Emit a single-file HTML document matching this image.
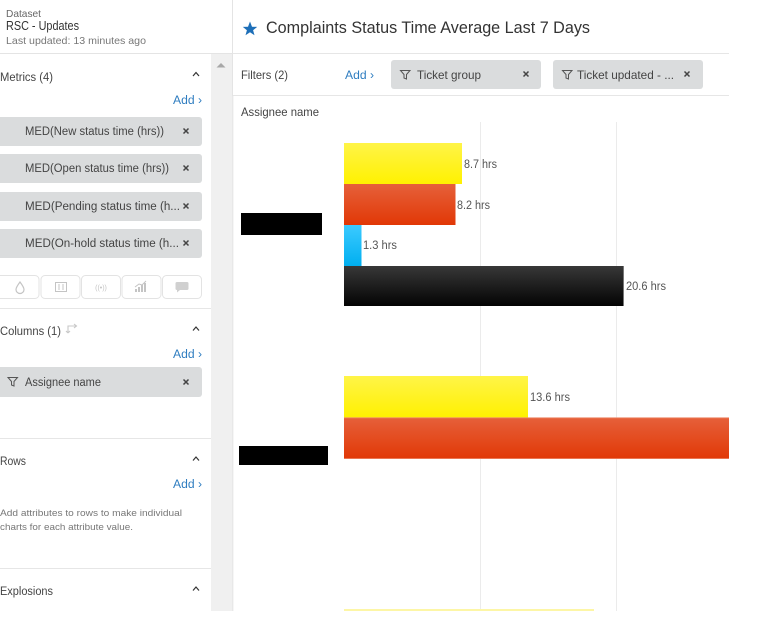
<!DOCTYPE html>
<html>
<head>
<meta charset="utf-8">
<style>
  html,body{margin:0;padding:0;background:#fff;}
  svg{display:block;}
  text{font-family:"Liberation Sans", Arial, sans-serif;}
</style>
</head>
<body>
<svg width="765" height="637" viewBox="0 0 765 637" xmlns="http://www.w3.org/2000/svg">
  <defs>
    <linearGradient id="gY" x1="0" y1="0" x2="0" y2="1">
      <stop offset="0" stop-color="#fff448"/>
      <stop offset="1" stop-color="#fff100"/>
    </linearGradient>
    <linearGradient id="gR" x1="0" y1="0" x2="0" y2="1">
      <stop offset="0" stop-color="#e6603a"/>
      <stop offset="1" stop-color="#e13806"/>
    </linearGradient>
    <linearGradient id="gB" x1="0" y1="0" x2="0" y2="1">
      <stop offset="0" stop-color="#3ccaff"/>
      <stop offset="1" stop-color="#00aff0"/>
    </linearGradient>
    <linearGradient id="gK" x1="0" y1="0" x2="0" y2="1">
      <stop offset="0" stop-color="#383838"/>
      <stop offset="1" stop-color="#030303"/>
    </linearGradient>
    <clipPath id="leftClip"><rect x="0" y="54" width="211" height="557"/></clipPath>
    <clipPath id="chartClip"><rect x="233" y="96" width="496" height="515"/></clipPath>
  </defs>

  <rect width="765" height="637" fill="#fff"/>

  <!-- ===== Left header ===== -->
  <text x="6" y="17" font-size="10.5" fill="#666" textLength="35" lengthAdjust="spacingAndGlyphs">Dataset</text>
  <text x="6" y="30" font-size="12.5" fill="#333" textLength="73" lengthAdjust="spacingAndGlyphs">RSC - Updates</text>
  <text x="6" y="44" font-size="10.5" fill="#777" textLength="140" lengthAdjust="spacingAndGlyphs">Last updated: 13 minutes ago</text>
  <line x1="0" y1="53.5" x2="232" y2="53.5" stroke="#e4e4e4" stroke-width="1"/>

  <!-- scrollbar -->
  <rect x="211" y="54" width="21" height="557" fill="#f0f0f0"/>
  <polygon points="216.5,67.5 225.5,67.5 221,63" fill="#a8a8a8"/>
  <line x1="232.5" y1="0" x2="232.5" y2="611" stroke="#e4e4e4" stroke-width="1"/>

  <!-- ===== Left panel content ===== -->
  <g clip-path="url(#leftClip)">
    <!-- Metrics -->
    <text x="0" y="81" font-size="11.5" fill="#444" textLength="53" lengthAdjust="spacingAndGlyphs">Metrics (4)</text>
    <polyline points="193,76 196,72.5 199,76" fill="none" stroke="#333" stroke-width="1.2"/>
    <text x="173" y="104" font-size="11.5" fill="#2f7dc0" textLength="29" lengthAdjust="spacingAndGlyphs">Add ›</text>

    <rect x="-4" y="117" width="206" height="29" rx="3" fill="#dadcdd"/>
    <text x="25" y="135" font-size="11.5" fill="#444" textLength="139" lengthAdjust="spacingAndGlyphs">MED(New status time (hrs))</text>
    <path d="M183.5,128.5 L188.5,133.5 M188.5,128.5 L183.5,133.5" stroke="#444" stroke-width="1.5"/>

    <rect x="-4" y="154" width="206" height="29" rx="3" fill="#dadcdd"/>
    <text x="25" y="172" font-size="11.5" fill="#444" textLength="144" lengthAdjust="spacingAndGlyphs">MED(Open status time (hrs))</text>
    <path d="M183.5,165.5 L188.5,170.5 M188.5,165.5 L183.5,170.5" stroke="#444" stroke-width="1.5"/>

    <rect x="-4" y="192" width="206" height="29" rx="3" fill="#dadcdd"/>
    <text x="25" y="210" font-size="11.5" fill="#444" textLength="155" lengthAdjust="spacingAndGlyphs">MED(Pending status time (h...</text>
    <path d="M183.5,203.5 L188.5,208.5 M188.5,203.5 L183.5,208.5" stroke="#444" stroke-width="1.5"/>

    <rect x="-4" y="229" width="206" height="29" rx="3" fill="#dadcdd"/>
    <text x="25" y="247" font-size="11.5" fill="#444" textLength="154" lengthAdjust="spacingAndGlyphs">MED(On-hold status time (h...</text>
    <path d="M183.5,240.5 L188.5,245.5 M188.5,240.5 L183.5,245.5" stroke="#444" stroke-width="1.5"/>

    <!-- icon toolbar -->
    <rect x="-4" y="275.5" width="43" height="23" rx="4" fill="#fff" stroke="#e3e3e3"/>
    <rect x="41" y="275.5" width="39" height="23" rx="4" fill="#fff" stroke="#e3e3e3"/>
    <rect x="81.5" y="275.5" width="39" height="23" rx="4" fill="#fff" stroke="#e3e3e3"/>
    <rect x="122" y="275.5" width="39" height="23" rx="4" fill="#fff" stroke="#e3e3e3"/>
    <rect x="162.5" y="275.5" width="39" height="23" rx="4" fill="#fff" stroke="#e3e3e3"/>
    <!-- drop -->
    <path d="M20,282 C17,286 16,288 16,289.5 A4,4 0 0 0 24,289.5 C24,288 23,286 20,282 Z" fill="none" stroke="#c4c4c4" stroke-width="1.2"/>
    <!-- columns -->
    <rect x="55.5" y="282.5" width="11" height="9" fill="none" stroke="#c4c4c4"/>
    <line x1="59" y1="284" x2="59" y2="290" stroke="#c4c4c4"/>
    <line x1="63" y1="284" x2="63" y2="290" stroke="#c4c4c4"/>
    <!-- signal -->
    <text x="101" y="290" font-size="7" fill="#c4c4c4" text-anchor="middle">((•))</text>
    <!-- chart -->
    <path d="M136,292 L136,289 M139,292 L139,287 M142,292 L142,285 M145,292 L145,283" stroke="#c4c4c4" stroke-width="2"/>
    <polyline points="135,287 139,284 142,285 146,281" fill="none" stroke="#c4c4c4" stroke-width="1"/>
    <!-- chat -->
    <path d="M177,282 h10 a1.5,1.5 0 0 1 1.5,1.5 v5 a1.5,1.5 0 0 1 -1.5,1.5 h-7 l-3,2.5 v-2.5 a1.5,1.5 0 0 1 -1.5,-1.5 v-5 a1.5,1.5 0 0 1 1.5,-1.5 z" fill="#d0d0d0"/>

    <line x1="0" y1="308.5" x2="211" y2="308.5" stroke="#e6e6e6"/>

    <!-- Columns -->
    <text x="0" y="335" font-size="11.5" fill="#444" textLength="61" lengthAdjust="spacingAndGlyphs">Columns (1)</text>
    <path d="M68,333 L68,326 L76,326 M74,324 L76.5,326 L74,328 M68,333 L66,331 M68,333 L70,331" fill="none" stroke="#c8c8c8" stroke-width="1.1"/>
    <polyline points="193,330.5 196,327 199,330.5" fill="none" stroke="#333" stroke-width="1.2"/>
    <text x="173" y="358" font-size="11.5" fill="#2f7dc0" textLength="29" lengthAdjust="spacingAndGlyphs">Add ›</text>

    <rect x="-4" y="367" width="206" height="30" rx="3" fill="#dadcdd"/>
    <path d="M8,377.5 H17.5 L14,381.5 V386 L11.5,385 V381.5 Z" fill="none" stroke="#555" stroke-width="1"/>
    <text x="25" y="386" font-size="11.5" fill="#444" textLength="76" lengthAdjust="spacingAndGlyphs">Assignee name</text>
    <path d="M183.5,379.5 L188.5,384.5 M188.5,379.5 L183.5,384.5" stroke="#444" stroke-width="1.5"/>

    <line x1="0" y1="438.5" x2="211" y2="438.5" stroke="#e6e6e6"/>

    <!-- Rows -->
    <text x="0" y="465" font-size="11.5" fill="#444" textLength="26" lengthAdjust="spacingAndGlyphs">Rows</text>
    <polyline points="193,460.5 196,457 199,460.5" fill="none" stroke="#333" stroke-width="1.2"/>
    <text x="173" y="488" font-size="11.5" fill="#2f7dc0" textLength="29" lengthAdjust="spacingAndGlyphs">Add ›</text>
    <text x="0" y="516" font-size="9.5" fill="#777" textLength="182" lengthAdjust="spacingAndGlyphs">Add attributes to rows to make individual</text>
    <text x="0" y="530" font-size="9.5" fill="#777" textLength="133" lengthAdjust="spacingAndGlyphs">charts for each attribute value.</text>

    <line x1="0" y1="568.5" x2="211" y2="568.5" stroke="#e6e6e6"/>

    <!-- Explosions -->
    <text x="0" y="595" font-size="11.5" fill="#444" textLength="53" lengthAdjust="spacingAndGlyphs">Explosions</text>
    <polyline points="193,590.5 196,587 199,590.5" fill="none" stroke="#333" stroke-width="1.2"/>
    <text x="173" y="621.5" font-size="11.5" fill="#2f7dc0" textLength="29" lengthAdjust="spacingAndGlyphs">Add ›</text>
  </g>

  <!-- ===== Right: title ===== -->
  <polygon points="250,21.5 252,26.7 257.2,26.9 253.1,30.2 254.5,35.2 250,32.3 245.5,35.2 246.9,30.2 242.8,26.9 248,26.7" fill="#1d6fb8"/>
  <text x="266" y="33" font-size="17" fill="#333" textLength="324" lengthAdjust="spacingAndGlyphs">Complaints Status Time Average Last 7 Days</text>
  <line x1="233" y1="53.5" x2="729" y2="53.5" stroke="#e6e6e6"/>

  <!-- Filters row -->
  <text x="241" y="79" font-size="12" fill="#444" textLength="47" lengthAdjust="spacingAndGlyphs">Filters (2)</text>
  <text x="345" y="79" font-size="12" fill="#2f7dc0" textLength="29" lengthAdjust="spacingAndGlyphs">Add ›</text>

  <rect x="391" y="60" width="150" height="29" rx="3" fill="#dadcdd"/>
  <path d="M400.5,70.5 H410 L406.5,74.5 V79 L404,78 V74.5 Z" fill="none" stroke="#555" stroke-width="1"/>
  <text x="417" y="79" font-size="12" fill="#444" textLength="64" lengthAdjust="spacingAndGlyphs">Ticket group</text>
  <path d="M523.5,71.5 L528.5,76.5 M528.5,71.5 L523.5,76.5" stroke="#444" stroke-width="1.5"/>

  <rect x="553" y="60" width="150" height="29" rx="3" fill="#dadcdd"/>
  <path d="M562.5,70.5 H572 L568.5,74.5 V79 L566,78 V74.5 Z" fill="none" stroke="#555" stroke-width="1"/>
  <text x="577" y="79" font-size="12" fill="#444" textLength="97" lengthAdjust="spacingAndGlyphs">Ticket updated - ...</text>
  <path d="M684.5,71.5 L689.5,76.5 M689.5,71.5 L684.5,76.5" stroke="#444" stroke-width="1.5"/>

  <line x1="233" y1="95.5" x2="729" y2="95.5" stroke="#e6e6e6"/>

  <text x="241" y="116" font-size="12" fill="#444" textLength="78" lengthAdjust="spacingAndGlyphs">Assignee name</text>

  <!-- ===== Chart ===== -->
  <g clip-path="url(#chartClip)">
    <line x1="480.5" y1="122" x2="480.5" y2="611" stroke="#ebebeb"/>
    <line x1="616.5" y1="122" x2="616.5" y2="611" stroke="#ebebeb"/>

    <!-- group 1 -->
    <rect x="344" y="143" width="118" height="41" fill="url(#gY)"/>
    <rect x="344" y="184" width="111.5" height="41" fill="url(#gR)"/>
    <rect x="344" y="225" width="17.5" height="41" fill="url(#gB)"/>
    <rect x="344" y="266" width="280" height="40" fill="url(#gK)"/>
    <line x1="623.5" y1="266" x2="623.5" y2="306" stroke="#777"/>

    <text x="464" y="168" font-size="11.5" fill="#555" textLength="33" lengthAdjust="spacingAndGlyphs">8.7 hrs</text>
    <text x="457" y="209" font-size="11.5" fill="#555" textLength="33" lengthAdjust="spacingAndGlyphs">8.2 hrs</text>
    <text x="363" y="249" font-size="11.5" fill="#555" textLength="34" lengthAdjust="spacingAndGlyphs">1.3 hrs</text>
    <text x="626" y="290" font-size="11.5" fill="#555" textLength="40" lengthAdjust="spacingAndGlyphs">20.6 hrs</text>

    <rect x="241" y="213" width="81" height="22" fill="#000"/>

    <!-- group 2 -->
    <rect x="344" y="376" width="184" height="41.5" fill="url(#gY)"/>
    <rect x="344" y="417.5" width="400" height="41.5" fill="url(#gR)"/>
    <line x1="344" y1="417.8" x2="744" y2="417.8" stroke="#ee8a6c" stroke-width="0.8"/>
    <line x1="344" y1="458.6" x2="744" y2="458.6" stroke="#ee8a6c" stroke-width="0.8"/>
    <text x="530" y="401" font-size="11.5" fill="#555" textLength="40" lengthAdjust="spacingAndGlyphs">13.6 hrs</text>

    <rect x="239" y="446" width="89" height="19" fill="#000"/>

    <!-- group 3 (top edge visible) -->
    <rect x="344" y="609" width="250" height="2" fill="#fdf6a6"/>
  </g>
  <line x1="233" y1="96" x2="233" y2="611" stroke="#ececec"/>
</svg>
</body>
</html>
